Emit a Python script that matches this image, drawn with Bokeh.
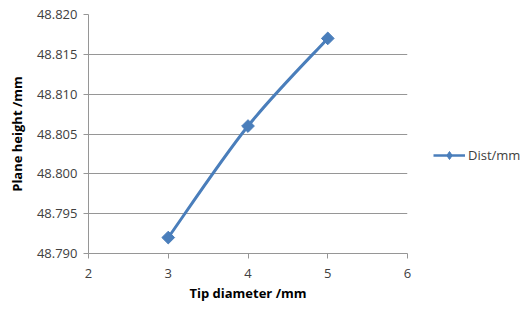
from bokeh.plotting import figure
from bokeh.models import Range1d, FixedTicker, PrintfTickFormatter, Legend, LegendItem, ColumnDataSource
from bokeh.embed import file_html
from bokeh.resources import INLINE
import numpy as np

tip_diameter = [3, 4, 5]
plane_height = [48.792, 48.806, 48.817]
series_name = "Dist/mm"
x_ticks = [2, 3, 4, 5, 6]
y_ticks = [48.790, 48.795, 48.800, 48.805, 48.810, 48.815, 48.820]

color = "#4A7EBB"
font = "Open Sans"

p = figure(frame_width=319, frame_height=239, output_backend="svg", toolbar_location=None,
           x_range=Range1d(2, 6), y_range=Range1d(48.790, 48.820),
           min_border_left=88, min_border_top=14, min_border_right=113, min_border_bottom=48)
p.outline_line_color = None
p.xgrid.grid_line_color = None
p.ygrid.grid_line_color = "#969696"
p.ygrid.grid_line_width = 1

p.xaxis.ticker = FixedTicker(ticks=x_ticks)
p.yaxis.ticker = FixedTicker(ticks=y_ticks)
p.yaxis.formatter = PrintfTickFormatter(format="%.3f")
for ax in (p.xaxis, p.yaxis):
    ax.axis_line_color = "#969696"
    ax.major_tick_line_color = "#969696"
    ax.minor_tick_line_color = None
    ax.major_tick_out = 5
    ax.major_tick_in = 0
    ax.major_label_text_font = font
    ax.major_label_text_font_size = "13px"
    ax.major_label_text_color = "#404040"
    ax.axis_label_text_font = font
    ax.axis_label_text_font_size = "13px"
    ax.axis_label_text_font_style = "bold"
    ax.axis_label_text_color = "#000000"
p.xaxis.axis_label = "Tip diameter /mm"
p.yaxis.axis_label = "Plane height /mm"
p.yaxis.major_label_standoff = 6
p.xaxis.major_label_standoff = 10
p.xaxis.axis_label_standoff = 3
p.yaxis.axis_label_standoff = 8

# smoothed curve (Catmull-Rom -> Bezier) through the data points
x = np.array(tip_diameter, dtype=float)
y = np.array(plane_height, dtype=float)
n = len(x)
x0s, y0s, x1s, y1s, cx0, cy0, cx1, cy1 = [], [], [], [], [], [], [], []
for i in range(n - 1):
    im = max(i - 1, 0)
    ip2 = min(i + 2, n - 1)
    x0s.append(x[i]); y0s.append(y[i]); x1s.append(x[i + 1]); y1s.append(y[i + 1])
    cx0.append(x[i] + (x[i + 1] - x[im]) / 6); cy0.append(y[i] + (y[i + 1] - y[im]) / 6)
    cx1.append(x[i + 1] - (x[ip2] - x[i]) / 6); cy1.append(y[i + 1] - (y[ip2] - y[i]) / 6)
src = ColumnDataSource(dict(x0=x0s, y0=y0s, x1=x1s, y1=y1s, cx0=cx0, cy0=cy0, cx1=cx1, cy1=cy1))
curve = p.bezier(x0="x0", y0="y0", x1="x1", y1="y1", cx0="cx0", cy0="cy0", cx1="cx1", cy1="cy1",
                 source=src, line_color=color, line_width=3)
marks = p.scatter(tip_diameter, plane_height, marker="square", angle=np.pi / 4, size=9, color=color)

leg_line = p.line([np.nan], [np.nan], line_color=color, line_width=2.5)
leg_mark = p.scatter([np.nan], [np.nan], marker="diamond", size=9, color=color)
leg = Legend(items=[LegendItem(label=series_name, renderers=[leg_line, leg_mark])],
             location=(26, 88), border_line_color=None, background_fill_alpha=0,
             label_text_font=font, label_text_font_size="13px", label_text_color="#404040",
             glyph_width=32, label_standoff=3, padding=0, margin=0)
p.add_layout(leg, "right")

open("out.html", "w").write(file_html(p, INLINE))
